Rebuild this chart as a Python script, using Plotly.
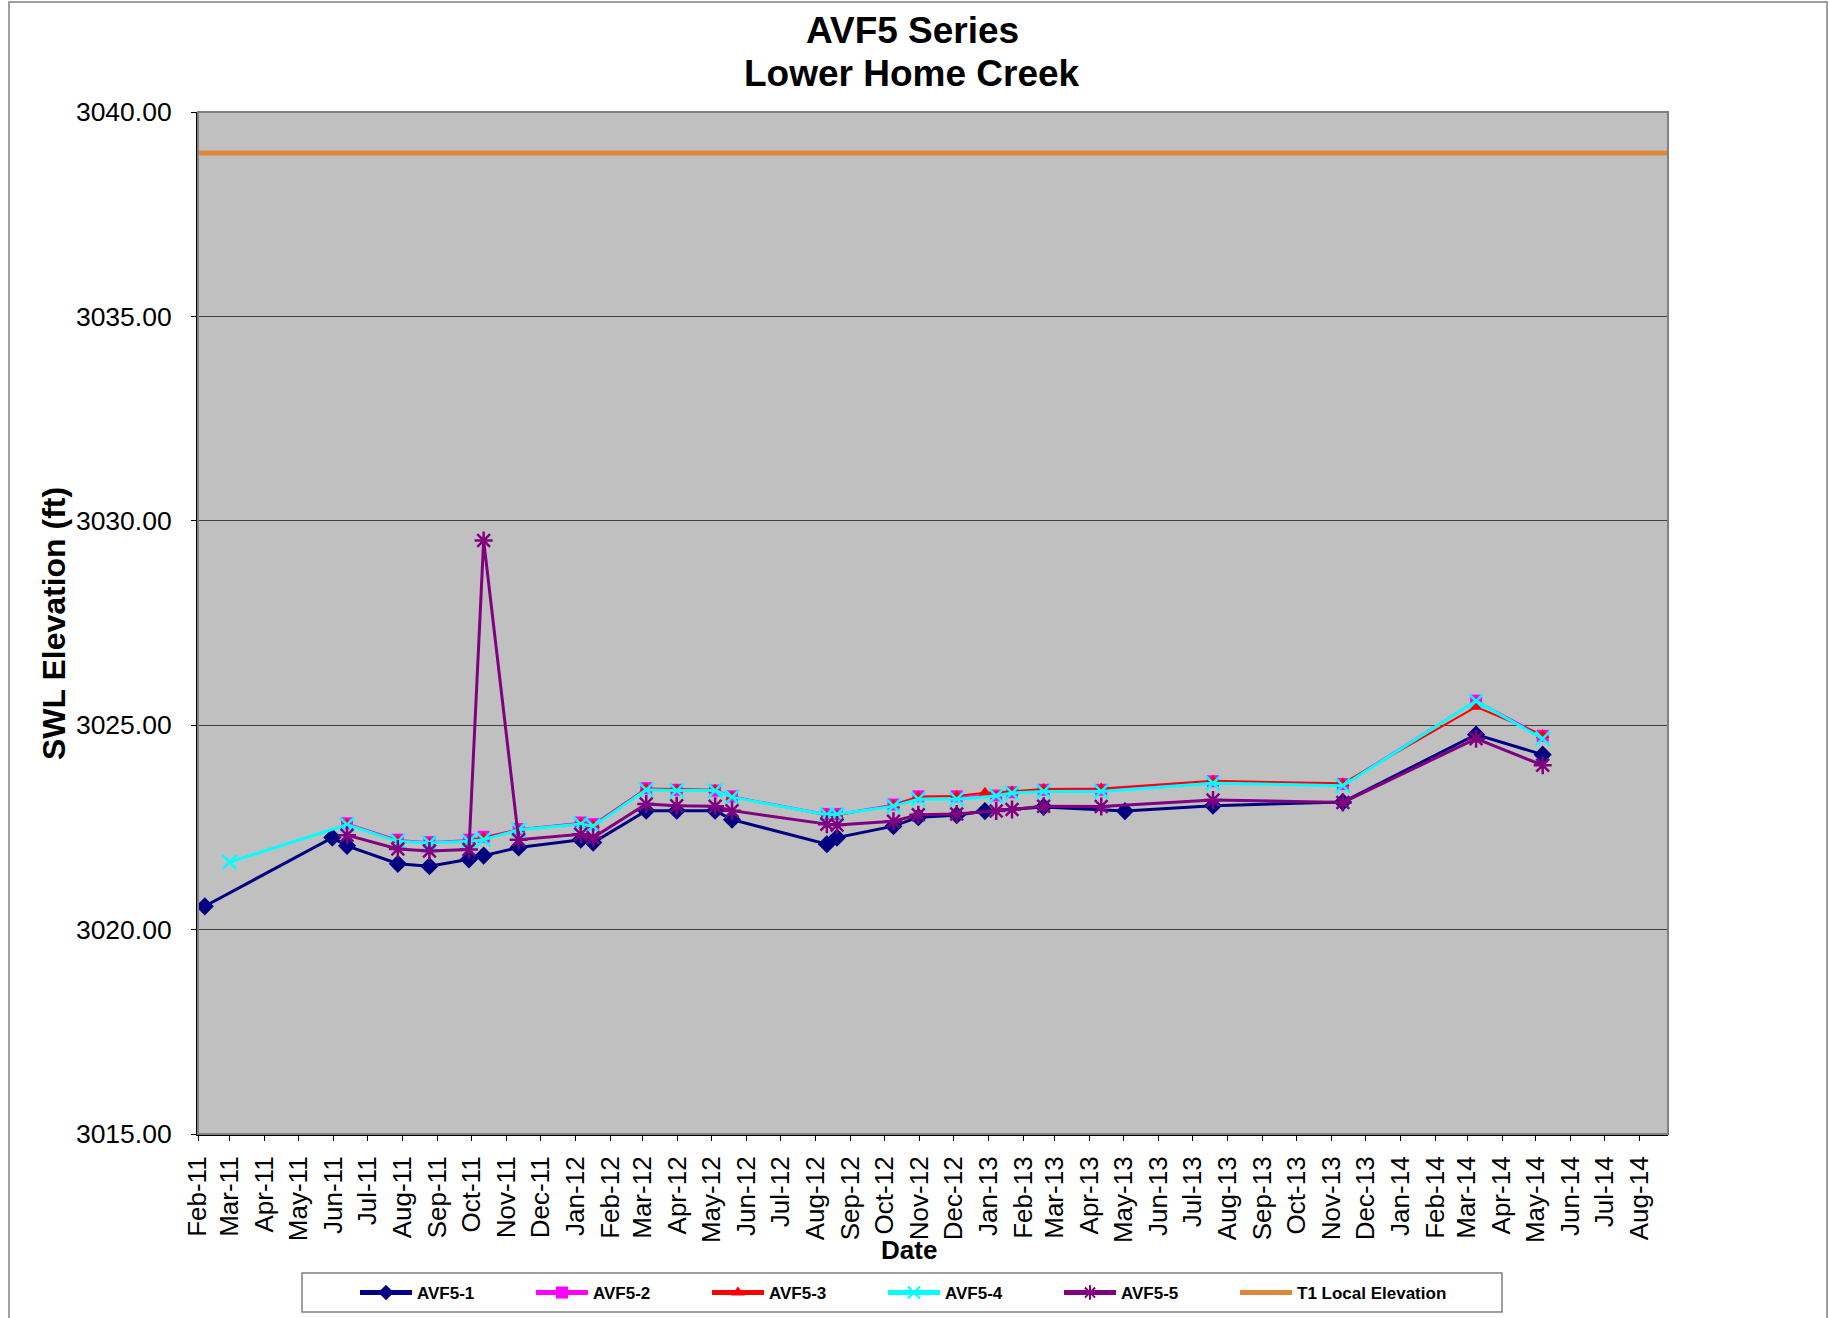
import plotly.graph_objects as go

# ---------------- data ----------------
avf1_dates = ["2011-02-07", "2011-05-31", "2011-06-13", "2011-07-28", "2011-08-25", "2011-09-29",
              "2011-10-12", "2011-11-12", "2012-01-06", "2012-01-17", "2012-03-04", "2012-03-31",
              "2012-05-04", "2012-05-19", "2012-08-11", "2012-08-20", "2012-10-09", "2012-10-31",
              "2012-12-04", "2012-12-29", "2013-02-19", "2013-05-02", "2013-07-19", "2013-11-11",
              "2014-03-09", "2014-05-07"]
avf1_vals = [3020.57, 3022.25, 3022.05, 3021.61, 3021.55, 3021.72,
             3021.81, 3022.01, 3022.20, 3022.13, 3022.91, 3022.91,
             3022.91, 3022.69, 3022.09, 3022.25, 3022.53, 3022.75,
             3022.80, 3022.90, 3023.00, 3022.90, 3023.03, 3023.12,
             3024.77, 3024.28]

avf2_dates = ["2011-06-13", "2011-07-28", "2011-08-25", "2011-09-29", "2011-10-12", "2011-11-12",
              "2012-01-06", "2012-01-17", "2012-03-04", "2012-03-31", "2012-05-04", "2012-05-19",
              "2012-08-11", "2012-08-20", "2012-10-09", "2012-10-31", "2012-12-04", "2013-01-08",
              "2013-01-22", "2013-02-19", "2013-04-11", "2013-07-19", "2013-11-11", "2014-03-09",
              "2014-05-07"]
avf2_vals = [3022.60, 3022.20, 3022.14, 3022.20, 3022.27, 3022.46,
             3022.62, 3022.58, 3023.46, 3023.42, 3023.40, 3023.26,
             3022.83, 3022.83, 3023.06, 3023.26, 3023.26, 3023.28,
             3023.36, 3023.42, 3023.42, 3023.63, 3023.56, 3025.60,
             3024.74]

avf3_dates = ["2011-06-13", "2011-07-28", "2011-08-25", "2011-09-29", "2011-10-12", "2011-11-12",
              "2012-01-06", "2012-01-17", "2012-03-04", "2012-03-31", "2012-05-04", "2012-05-19",
              "2012-08-11", "2012-08-20", "2012-10-09", "2012-10-31", "2012-12-04", "2012-12-29",
              "2013-01-22", "2013-02-19", "2013-04-11", "2013-07-19", "2013-11-11", "2014-03-09",
              "2014-05-07"]
avf3_vals = [3022.58, 3022.18, 3022.12, 3022.18, 3022.25, 3022.45,
             3022.60, 3022.56, 3023.45, 3023.43, 3023.42, 3023.25,
             3022.80, 3022.80, 3023.05, 3023.25, 3023.27, 3023.35,
             3023.38, 3023.44, 3023.45, 3023.64, 3023.58, 3025.45,
             3024.76]

avf4_dates = ["2011-03-01", "2011-06-13", "2011-07-28", "2011-08-25", "2011-09-29", "2011-10-12",
              "2011-11-12", "2012-01-06", "2012-01-17", "2012-03-04", "2012-03-31", "2012-05-04",
              "2012-05-19", "2012-08-11", "2012-08-20", "2012-10-09", "2012-10-31", "2012-12-04",
              "2013-01-08", "2013-01-22", "2013-02-19", "2013-04-11", "2013-07-19", "2013-11-11",
              "2014-03-09", "2014-05-07"]
avf4_vals = [3021.65, 3022.57, 3022.16, 3022.12, 3022.16, 3022.20,
             3022.44, 3022.58, 3022.53, 3023.42, 3023.40, 3023.40,
             3023.24, 3022.81, 3022.82, 3023.02, 3023.19, 3023.19,
             3023.27, 3023.34, 3023.38, 3023.38, 3023.58, 3023.52,
             3025.59, 3024.67]

avf5_dates = ["2011-06-13", "2011-07-28", "2011-08-25", "2011-09-29", "2011-10-12", "2011-11-12",
              "2012-01-06", "2012-01-17", "2012-03-04", "2012-03-31", "2012-05-04", "2012-05-19",
              "2012-08-11", "2012-08-20", "2012-10-09", "2012-10-31", "2012-12-04", "2013-01-08",
              "2013-01-22", "2013-02-19", "2013-04-11", "2013-07-19", "2013-11-11", "2014-03-09",
              "2014-05-07"]
avf5_vals = [3022.31, 3021.97, 3021.92, 3021.96, 3029.52, 3022.20,
             3022.33, 3022.25, 3023.07, 3023.03, 3023.02, 3022.91,
             3022.58, 3022.56, 3022.65, 3022.81, 3022.83, 3022.90,
             3022.94, 3023.02, 3023.01, 3023.17, 3023.11, 3024.67,
             3024.02]

t1_dates = ["2011-02-01", "2014-08-26"]
t1_vals = [3039.0, 3039.0]

x_range = ["2011-02-01", "2014-08-26"]
y_range = [3015, 3040]

title_line1 = "AVF5 Series"
title_line2 = "Lower Home Creek"
y_title = "SWL Elevation (ft)"
x_title = "Date"

# ---------------- figure ----------------
W, H = 1829, 1318
L, R, T, B = 198, 161, 112, 184
PW, PH = W - L - R, H - T - B


def px_x(p):
    return (p - L) / PW


def px_y(p):
    return (H - B - p) / PH


FONT = "Liberation Sans, Arial, sans-serif"

fig = go.Figure()

fig.add_trace(go.Scatter(
    x=avf1_dates, y=avf1_vals, name="AVF5-1", mode="lines+markers",
    line=dict(color="#000080", width=3),
    marker=dict(symbol="diamond", size=14, color="#000080")))
fig.add_trace(go.Scatter(
    x=avf2_dates, y=avf2_vals, name="AVF5-2", mode="lines+markers",
    line=dict(color="#FF00FF", width=1.5),
    marker=dict(symbol="square", size=12, color="#FF00FF")))
fig.add_trace(go.Scatter(
    x=avf3_dates, y=avf3_vals, name="AVF5-3", mode="lines+markers",
    line=dict(color="#FF0000", width=2),
    marker=dict(symbol="triangle-up", size=12, color="#FF0000")))
fig.add_trace(go.Scatter(
    x=avf4_dates, y=avf4_vals, name="AVF5-4", mode="lines+markers",
    line=dict(color="#00FFFF", width=3),
    marker=dict(symbol="x-thin", size=14, color="#00FFFF",
                line=dict(color="#00FFFF", width=2.5))))
fig.add_trace(go.Scatter(
    x=avf5_dates, y=avf5_vals, name="AVF5-5", mode="lines+markers",
    line=dict(color="#800080", width=3),
    marker=dict(symbol="asterisk", size=15, color="#800080",
                line=dict(color="#800080", width=2.5))))
fig.add_trace(go.Scatter(
    x=t1_dates, y=t1_vals, name="T1 Local Elevation", mode="lines",
    legendwidth=220,
    line=dict(color="#E0883A", width=5)))

shapes = [
    # outer frame
    dict(type="rect", xref="paper", yref="paper",
         x0=px_x(9), x1=px_x(1827), y0=px_y(1340), y1=px_y(2),
         line=dict(color="#808080", width=1.5), fillcolor="rgba(0,0,0,0)", layer="below"),
    # plot area top/right border
    dict(type="rect", xref="paper", yref="paper", x0=0, x1=1, y0=0, y1=1,
         line=dict(color="#808080", width=2), fillcolor="rgba(0,0,0,0)", layer="above"),
    # legend box
    dict(type="rect", xref="paper", yref="paper",
         x0=px_x(302), x1=px_x(1502), y0=px_y(1312), y1=px_y(1273),
         line=dict(color="#808080", width=1.5), fillcolor="white", layer="below"),
]

annotations = [
    dict(text="<b>" + title_line1 + "</b>", xref="paper", yref="paper",
         x=px_x(912), y=px_y(30), showarrow=False, xanchor="center", yanchor="middle",
         font=dict(family=FONT, size=37, color="black")),
    dict(text="<b>" + title_line2 + "</b>", xref="paper", yref="paper",
         x=px_x(912), y=px_y(74), showarrow=False, xanchor="center", yanchor="middle",
         font=dict(family=FONT, size=37, color="black")),
    dict(text="<b>" + x_title + "</b>", xref="paper", yref="paper",
         x=px_x(909), y=px_y(1250), showarrow=False, xanchor="center", yanchor="middle",
         font=dict(family=FONT, size=26, color="black")),
    dict(text="<b>" + y_title + "</b>", xref="paper", yref="paper",
         x=px_x(54), y=px_y(624), showarrow=False, xanchor="center", yanchor="middle",
         textangle=-90, font=dict(family=FONT, size=32, color="black")),
]

fig.update_layout(
    width=W, height=H,
    margin=dict(l=L, r=R, t=T, b=B, autoexpand=False),
    paper_bgcolor="white",
    plot_bgcolor="#C0C0C0",
    font=dict(family=FONT, color="black"),
    showlegend=True,
    legend=dict(orientation="h", x=px_x(355), y=px_y(1293), xanchor="left", yanchor="middle",
                bgcolor="rgba(0,0,0,0)", borderwidth=0,
                itemwidth=52, itemsizing="constant",
                entrywidth=109, entrywidthmode="pixels",
                font=dict(family=FONT, size=17, color="black", weight="bold")),
    shapes=shapes,
    annotations=annotations,
    xaxis=dict(type="date", range=x_range, dtick="M1", tick0="2011-02-01",
               tickformat="%b-%y", tickangle=-90, showgrid=False,
               showline=True, linecolor="black", linewidth=2,
               ticks="outside", ticklen=5, tickcolor="black",
               ticklabelstandoff=5,
               tickfont=dict(family=FONT, size=26, color="black")),
    yaxis=dict(range=y_range, dtick=5, tick0=3015, tickformat=".2f",
               showgrid=True, gridcolor="#404040", gridwidth=1,
               showline=True, linecolor="black", linewidth=2,
               ticks="outside", ticklen=5, tickcolor="black",
               ticklabelstandoff=14, zeroline=False,
               tickfont=dict(family=FONT, size=26.5, color="black")),
)

fig.write_html("out.html", config={"displayModeBar": False},
               post_script="document.body.style.margin='0';")
